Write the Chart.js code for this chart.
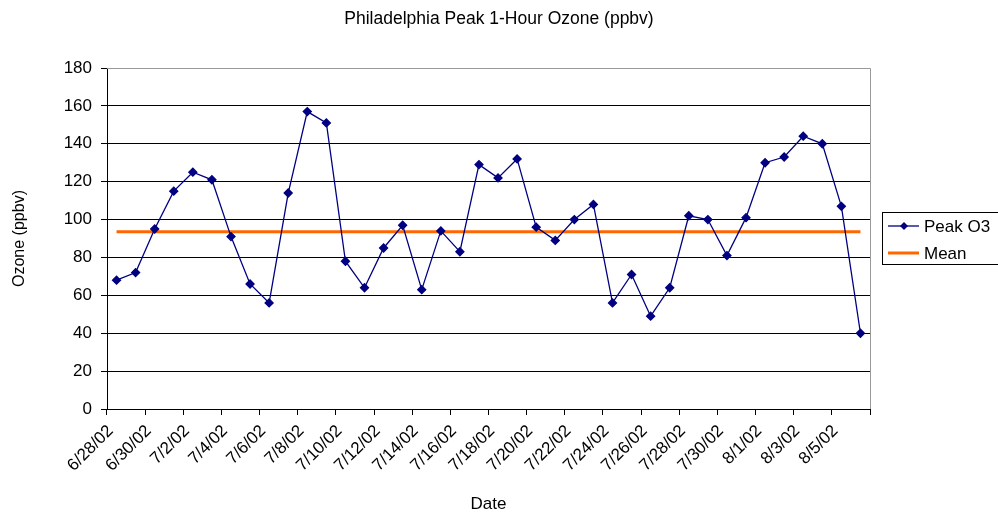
<!DOCTYPE html>
<html>
<head>
<meta charset="utf-8">
<title>Philadelphia Peak 1-Hour Ozone</title>
<script src="https://cdn.jsdelivr.net/npm/chart.js@4.4.1/dist/chart.umd.min.js"></script>
<style>
    body { margin: 0; background: #fff; }
    #wrap { width: 998px; height: 518px; position: relative; }
</style>
</head>
<body>
<div id="wrap"><canvas id="ozoneChart"></canvas></div>
<script>

// data
const dates = [
    "6/28/02","6/29/02","6/30/02","7/1/02","7/2/02","7/3/02","7/4/02","7/5/02",
    "7/6/02","7/7/02","7/8/02","7/9/02","7/10/02","7/11/02","7/12/02","7/13/02",
    "7/14/02","7/15/02","7/16/02","7/17/02","7/18/02","7/19/02","7/20/02","7/21/02",
    "7/22/02","7/23/02","7/24/02","7/25/02","7/26/02","7/27/02","7/28/02","7/29/02",
    "7/30/02","7/31/02","8/1/02","8/2/02","8/3/02","8/4/02","8/5/02","8/6/02"
];
const peakO3 = [
    68, 72, 95, 115, 125, 121, 91, 66,
    56, 114, 157, 151, 78, 64, 85, 97,
    63, 94, 83, 129, 122, 132, 96, 89,
    100, 108, 56, 71, 49, 64, 102, 100,
    81, 101, 130, 133, 144, 140, 107, 40
];
const meanOzone = 93.6;
const meanLine = dates.map(() => meanOzone);

const FONT = "'Liberation Sans', Arial, sans-serif";

/* TITLE + LEGEND + PLOT BORDER */
const extras = {
    id: "extras",
    beforeDatasetsDraw(chart){
        const ctx = chart.ctx;
        const a = chart.chartArea;
        ctx.save();
        ctx.strokeStyle = "#999";
        ctx.lineWidth = 1;
        ctx.beginPath();
        ctx.moveTo(a.left, a.top + 0.5);
        ctx.lineTo(a.right + 0.5, a.top + 0.5);
        ctx.lineTo(a.right + 0.5, a.bottom);
        ctx.stroke();
        ctx.restore();
    },
    afterDraw(chart){
        const ctx = chart.ctx;
        ctx.save();

        // title
        ctx.fillStyle = "#000";
        ctx.font = "17.5px " + FONT;
        ctx.textAlign = "center";
        ctx.textBaseline = "middle";
        ctx.fillText("Philadelphia Peak 1-Hour Ozone (ppbv)", 499, 19);

        // legend box
        ctx.strokeStyle = "#000";
        ctx.lineWidth = 1;
        ctx.strokeRect(882.5, 212.5, 130, 52);

        const rows = [226, 253];
        ctx.font = "17px " + FONT;
        ctx.textAlign = "left";
        chart.data.datasets.forEach((ds, i) => {
            const y = rows[i];
            ctx.strokeStyle = ds.borderColor;
            ctx.lineWidth = ds.borderWidth;
            ctx.beginPath();
            ctx.moveTo(888, y);
            ctx.lineTo(919, y);
            ctx.stroke();
            if(ds.pointRadius > 0){
                ctx.fillStyle = ds.backgroundColor;
                ctx.beginPath();
                ctx.moveTo(904, y - 4);
                ctx.lineTo(908, y);
                ctx.lineTo(904, y + 4);
                ctx.lineTo(900, y);
                ctx.closePath();
                ctx.fill();
            }
            ctx.fillStyle = "#000";
            ctx.fillText(ds.label, 924, y + 1);
        });

        ctx.restore();
    }
};

/* CHART */
new Chart(document.getElementById("ozoneChart"), {
    type: "line",
    data: {
        labels: dates,
        datasets: [{
            label: "Peak O3",
            data: peakO3,
            borderColor: "#000080",
            backgroundColor: "#000080",
            borderWidth: 1.3,
            pointStyle: "rectRot",
            pointRadius: 4,
            pointHoverRadius: 4,
            tension: 0
        }, {
            label: "Mean",
            data: meanLine,
            borderColor: "#FF6600",
            backgroundColor: "#FF6600",
            borderWidth: 3,
            pointRadius: 0,
            tension: 0
        }]
    },
    options: {
        responsive: true,
        maintainAspectRatio: false,
        animation: false,
        layout: {
            padding: { top: 68, right: 128, bottom: 0, left: 0 }
        },
        plugins: {
            legend: { display: false },
            title: { display: false },
            tooltip: { enabled: false }
        },
        scales: {
            x: {
                offset: true,
                afterFit: (scale) => { scale.height = 109; },
                grid: {
                    offset: true,
                    drawOnChartArea: false,
                    tickLength: 6,
                    color: (c) => (c.index === undefined || c.index % 2 === 0) ? "#000" : "rgba(0,0,0,0)"
                },
                border: { color: "#000", width: 1 },
                ticks: {
                    autoSkip: false,
                    maxRotation: 45,
                    minRotation: 45,
                    padding: 6,
                    labelOffset: -6,
                    color: "#000",
                    font: { family: FONT, size: 17 },
                    callback: function(v, i){ return i % 2 === 0 ? dates[i] : ""; }
                },
                title: {
                    display: true,
                    text: "Date",
                    color: "#000",
                    font: { family: FONT, size: 17 },
                    padding: { top: 0, bottom: 3 }
                }
            },
            y: {
                min: 0,
                max: 180,
                afterFit: (scale) => { scale.width = 107; },
                grid: {
                    color: (c) => c.tick && c.tick.value === 180 ? "#999" : "#000",
                    tickColor: "#000",
                    tickLength: 6
                },
                border: { color: "#000", width: 1 },
                ticks: {
                    stepSize: 20,
                    padding: 9,
                    color: "#000",
                    font: { family: FONT, size: 17 }
                },
                title: {
                    display: true,
                    text: "Ozone (ppbv)",
                    color: "#000",
                    font: { family: FONT, size: 16 },
                    padding: { top: 10, bottom: 0 }
                }
            }
        }
    },
    plugins: [extras]
});

</script>
</body>
</html>
